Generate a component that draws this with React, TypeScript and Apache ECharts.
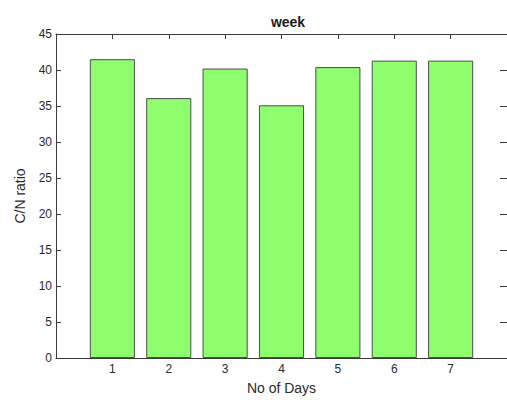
import React, { useEffect, useRef } from "react";
import * as echarts from "echarts";

// Day numbers along the x axis and the C/N ratio measured each day
const days = [1, 2, 3, 4, 5, 6, 7];
const cnRatio = [41.5, 36.1, 40.2, 35.1, 40.4, 41.3, 41.3];

// Axis ranges
const dayRange = [0, 8];
const ratioRange = [0, 45];
const ratioStep = 5;

const FONT = "'Liberation Sans', Arial, sans-serif";
const TEXT = "#2a2a2a";
const LINE = "#3a3a3a";

export default function App() {
  const ref = useRef<HTMLDivElement>(null);

  useEffect(() => {
    if (!ref.current) return;
    const chart = echarts.init(ref.current, undefined, { renderer: "svg" });

    const innerTick = () => ({ show: true, inside: true, length: 5, lineStyle: { color: LINE, width: 1 } });
    const axisLine = () => ({ show: true, onZero: false, lineStyle: { color: LINE, width: 1 } });

    chart.setOption({
      animation: false,
      backgroundColor: "#ffffff",
      title: {
        text: "week",
        left: 283,
        textAlign: "center",
        top: 10,
        textStyle: { fontFamily: FONT, fontSize: 14, fontWeight: "bold", color: "#1a1a1a" },
      },
      grid: { left: 56, right: 0, top: 34, bottom: 39 },
      xAxis: [
        {
          type: "value",
          position: "bottom",
          min: dayRange[0],
          max: dayRange[1],
          interval: 1,
          name: "No of Days",
          nameLocation: "middle",
          nameGap: 23,
          nameTextStyle: { fontFamily: FONT, fontSize: 14, color: TEXT },
          axisLine: axisLine(),
          axisTick: innerTick(),
          splitLine: { show: false },
          axisLabel: {
            fontFamily: FONT,
            fontSize: 12,
            color: TEXT,
            margin: 5,
            formatter: (v: number) => (days.includes(v) ? String(v) : ""),
          },
        },
        {
          type: "value",
          position: "top",
          min: dayRange[0],
          max: dayRange[1],
          interval: 1,
          axisLine: axisLine(),
          axisTick: innerTick(),
          axisLabel: { show: false },
          splitLine: { show: false },
        },
      ],
      yAxis: [
        {
          type: "value",
          position: "left",
          min: ratioRange[0],
          max: ratioRange[1],
          interval: ratioStep,
          name: "C/N ratio",
          nameLocation: "middle",
          nameGap: 29,
          nameTextStyle: { fontFamily: FONT, fontSize: 14, color: TEXT },
          axisLine: axisLine(),
          axisTick: innerTick(),
          splitLine: { show: false },
          axisLabel: { fontFamily: FONT, fontSize: 12, color: TEXT, margin: 4 },
        },
        {
          type: "value",
          position: "right",
          min: ratioRange[0],
          max: ratioRange[1],
          interval: ratioStep,
          axisLine: axisLine(),
          axisTick: { ...innerTick(), length: 7 },
          axisLabel: { show: false },
          splitLine: { show: false },
        },
      ],
      series: [
        {
          type: "bar",
          xAxisIndex: 0,
          yAxisIndex: 0,
          data: days.map((d, i) => [d, cnRatio[i]]),
          barWidth: "80%",
          itemStyle: { color: "#8efd6e", borderColor: "#4d4d4d", borderWidth: 1 },
        },
      ],
    });

    return () => chart.dispose();
  }, []);

  // The plot box runs a few pixels past the right edge of the frame, so the
  // chart is drawn slightly wider and clipped.
  return (
    <div style={{ position: "absolute", left: 0, top: 0, width: 507, height: 400, overflow: "hidden", background: "#fff" }}>
      <div ref={ref} style={{ width: 510, height: 400 }} />
    </div>
  );
}
